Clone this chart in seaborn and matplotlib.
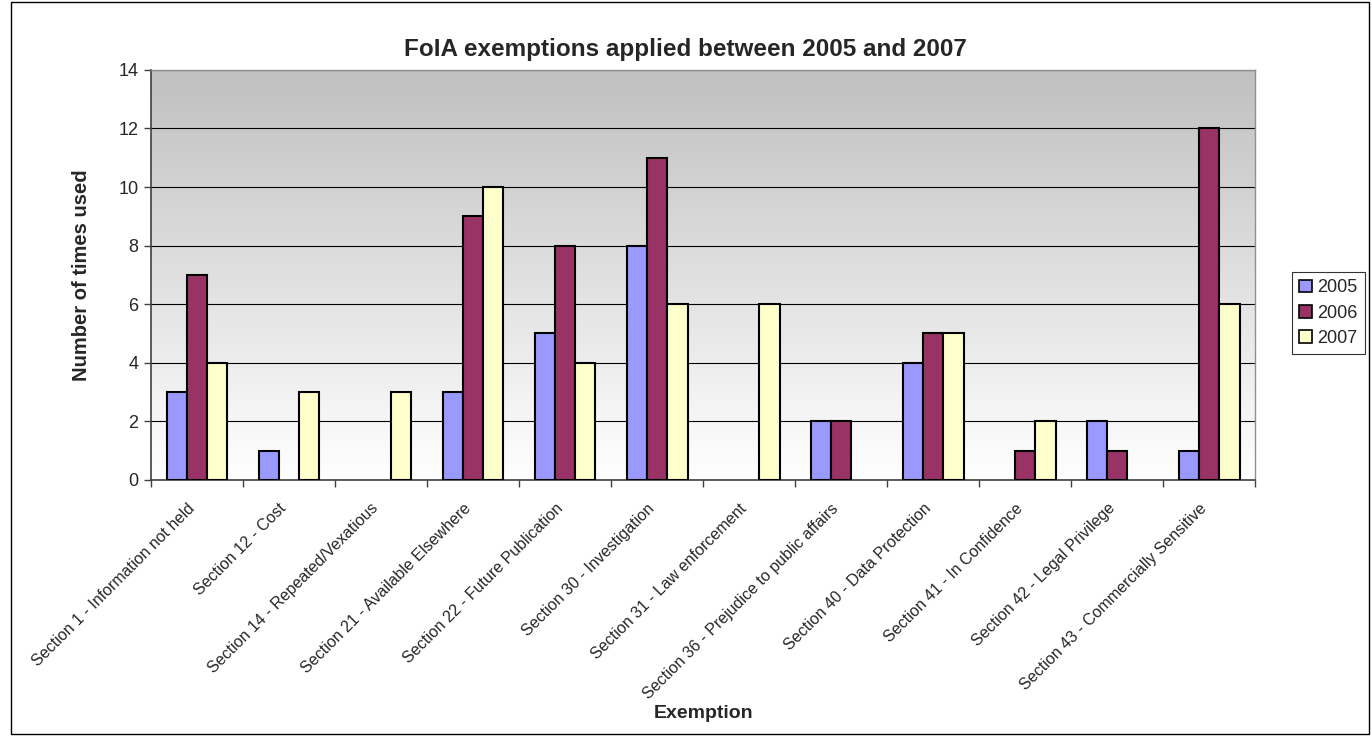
import numpy as np
import pandas as pd
import matplotlib
matplotlib.use("Agg")
import matplotlib.pyplot as plt
import seaborn as sns
from matplotlib.patches import Rectangle

sns.set_theme(style="white")
plt.rcParams['font.family'] = ['Liberation Sans', 'DejaVu Sans']

# Données
exemptions = [
    "Section 1 - Information not held",
    "Section 12 - Cost",
    "Section 14 - Repeated/Vexatious",
    "Section 21 - Available Elsewhere",
    "Section 22 - Future Publication",
    "Section 30 - Investigation",
    "Section 31 - Law enforcement",
    "Section 36 - Prejudice to public affairs",
    "Section 40 - Data Protection",
    "Section 41 - In Confidence",
    "Section 42 - Legal Privilege",
    "Section 43 - Commercially Sensitive",
]
years = ["2005", "2006", "2007"]
v2005 = [3, 1, 0, 3, 5, 8, 0, 2, 4, 0, 2, 1]
v2006 = [7, 0, 0, 9, 8, 11, 0, 2, 5, 1, 1, 12]
v2007 = [4, 3, 3, 10, 4, 6, 6, 0, 5, 2, 0, 6]

couleurs = ["#9999FF", "#993366", "#FFFFCC"]

df = pd.DataFrame({"exemption": exemptions * 3,
                   "annee": [y for y in years for _ in exemptions],
                   "nombre": v2005 + v2006 + v2007})

fig = plt.figure(figsize=(13.72, 7.36), dpi=100)
ax = fig.add_axes([0.110, 0.348, 0.805, 0.557])

# fond dégradé gris -> blanc (style Excel)
grad = np.linspace(0, 1, 256).reshape(-1, 1)
ax.imshow(grad, cmap=matplotlib.colors.LinearSegmentedColormap.from_list("g", ["#C0C0C0", "#FFFFFF"]),
          extent=[0, 1, 0, 1], transform=ax.transAxes, aspect="auto", zorder=0)

sns.barplot(data=df, x="exemption", y="nombre", hue="annee", palette=couleurs,
            width=0.66, edgecolor="black", linewidth=1.5, saturation=1, ax=ax, zorder=3)

# pas de trait pour les barres à zéro
for p in ax.patches:
    if p.get_height() == 0:
        p.set_linewidth(0)

ax.set_xlim(-0.5, 11.5)
ax.set_ylim(0, 14)
ax.set_yticks(range(0, 15, 2))
ax.yaxis.grid(True, color="black", linewidth=0.8, zorder=1)
ax.set_axisbelow(True)

# ticks entre les catégories, libellés au centre
ax.set_xticks(np.arange(-0.5, 12, 1))
ax.set_xticklabels([])
ax.set_xticks(np.arange(12) - 0.11, minor=True)
ax.set_xticklabels(exemptions, minor=True, rotation=45, ha="right", va="top",
                   rotation_mode="anchor", fontsize=11.5)
ax.tick_params(axis="x", which="minor", length=0, pad=15)
ax.tick_params(axis="x", which="major", direction="out", length=5, width=1, color="#404040", bottom=True)
ax.tick_params(axis="y", direction="out", length=5, width=1, color="#404040", left=True, labelsize=13, pad=4)

for s in ["left", "bottom"]:
    ax.spines[s].set_color("#404040")
    ax.spines[s].set_linewidth(1.2)
for s in ["top", "right"]:
    ax.spines[s].set_color("#909090")
    ax.spines[s].set_linewidth(1.0)

ax.set_title("FoIA exemptions applied between 2005 and 2007", fontsize=17.5, fontweight="bold",
             pad=10, x=0.484)
ax.set_ylabel("Number of times used", fontsize=14.5, fontweight="bold")
ax.yaxis.set_label_coords(-0.054, 0.5)
ax.set_xlabel("Exemption", fontsize=14, fontweight="bold", va="center")
ax.xaxis.set_label_coords(0.5, -0.571)

leg = ax.legend(loc="center left", bbox_to_anchor=(1.033, 0.407), frameon=True, fancybox=False,
                edgecolor="black", fontsize=13, handlelength=0.7, handleheight=0.7,
                handletextpad=0.3, borderpad=0.4, labelspacing=0.45, borderaxespad=0)
leg.get_frame().set_linewidth(0.8)
for h in leg.legend_handles:
    h.set_edgecolor("black")
    h.set_linewidth(1.2)

# cadre du graphique
fig.patches.append(Rectangle((0.008, 0.003), 0.990, 0.994, transform=fig.transFigure,
                             fill=False, edgecolor="black", linewidth=1))

fig.savefig("out.png", dpi=100)
